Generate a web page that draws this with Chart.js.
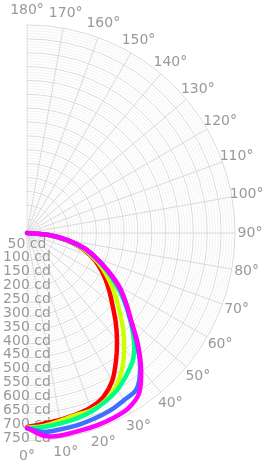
<!DOCTYPE html>
<html>
<head>
<meta charset="utf-8">
<script src="https://cdn.jsdelivr.net/npm/chart.js@4.4.1/dist/chart.umd.min.js"></script>
<style>
  html, body { margin: 0; padding: 0; background: #fff; overflow: hidden; }
  body { width: 264px; height: 468px; position: relative; }
  #wrap { position: absolute; left: -200px; top: 0; width: 464px; height: 468px; }
</style>
</head>
<body>
<div id="wrap"><canvas id="grafico"></canvas></div>
<script>
// Ângulos (0° em baixo) e intensidades em cd
const angles  = [0, 5, 10, 15, 20, 25, 30, 35, 40, 45, 50, 55, 60, 65, 70, 75, 80, 85, 90];
const red     = [700, 690, 684, 678, 670, 652, 615, 560, 505, 452, 402, 362, 325, 288, 248, 198, 142, 72, 0];
const yellow  = [702, 698, 688, 680, 680, 668, 640, 598, 545, 490, 435, 388, 343, 300, 254, 203, 145, 73, 0];
const green   = [705, 702, 697, 692, 684, 670, 652, 625, 595, 545, 485, 428, 370, 316, 262, 210, 148, 74, 0];
const blue    = [704, 720, 718, 716, 712, 707, 697, 688, 635, 560, 488, 432, 380, 320, 266, 215, 151, 75, 0];
const magenta = [703, 735, 740, 738, 738, 736, 730, 705, 640, 565, 490, 435, 383, 322, 267, 216, 151, 75, 0];

const radialTicks = [50, 100, 150, 200, 250, 300, 350, 400, 450, 500, 550, 600, 650, 700, 750];
const angleTicks  = [0, 10, 20, 30, 40, 50, 60, 70, 80, 90, 100, 110, 120, 130, 140, 150, 160, 170, 180];

// radar: índice k fica a k*5° (sentido horário) a partir do topo => 180° - 5k
const labels = [];
for (let k = 0; k < 72; k++) labels.push((180 - 5 * k + 360) % 360);

function toRadar(values) {
    return labels.map((deg, k) => {
        const i = angles.indexOf(180 - 5 * k);
        return i === -1 ? null : values[i];
    });
}

function serie(values, color) {
    return {
        data: toRadar(values),
        borderColor: color,
        borderWidth: 4.5,
        borderCapStyle: 'round',
        borderJoinStyle: 'round',
        pointRadius: 0,
        fill: false,
        tension: 0.3
    };
}

// só a metade direita da grelha + textos
const meiaGrelha = {
    id: 'meiaGrelha',
    beforeDraw(chart) {
        const r = chart.scales.r;
        const ctx = chart.ctx;
        ctx.save();
        ctx.beginPath();
        ctx.rect(r.xCenter - 0.5, 0, chart.width, chart.height);
        ctx.clip();
    },
    beforeDatasetsDraw(chart) {
        const r = chart.scales.r;
        const ctx = chart.ctx;
        ctx.restore();
        ctx.save();
        ctx.font = '14px "DejaVu Sans"';
        ctx.fillStyle = '#999';
        ctx.textAlign = 'center';
        ctx.textBaseline = 'middle';
        radialTicks.forEach(v => {
            ctx.fillText(v + ' cd', r.xCenter, r.yCenter + r.getDistanceFromCenterForValue(v) - 3);
        });
        angleTicks.forEach(deg => {
            const p = r.getPointPosition((180 - deg) / 5, r.drawingArea + 15);
            ctx.fillText(deg + '°', p.x, p.y);
        });
        ctx.restore();
    }
};

var ctx = document.getElementById('grafico').getContext('2d');
var grafico = new Chart(ctx, {
    type: 'radar',
    data: {
        labels: labels,
        datasets: [
            serie(magenta, '#ff00ff'),
            serie(blue, '#3f6fff'),
            serie(green, '#00ff88'),
            serie(yellow, '#ccff00'),
            serie(red, '#ff0000')
        ]
    },
    options: {
        responsive: true,
        maintainAspectRatio: false,
        animation: false,
        events: [],
        layout: { padding: { left: 19, right: 29, top: 25, bottom: 27 } },
        plugins: { legend: { display: false }, tooltip: { enabled: false } },
        scales: {
            r: {
                min: 0,
                max: 750,
                startAngle: 0,
                ticks: { display: false, stepSize: 10 },
                pointLabels: { display: false },
                grid: {
                    circular: true,
                    color: c => c.tick.value % 50 === 0 ? '#dadada' : '#f3f3f3'
                },
                angleLines: {
                    color: '#dadada',
                    lineWidth: c => c.index % 2 === 0 ? 1 : 0
                }
            }
        }
    },
    plugins: [meiaGrelha]
});
</script>
</body>
</html>
